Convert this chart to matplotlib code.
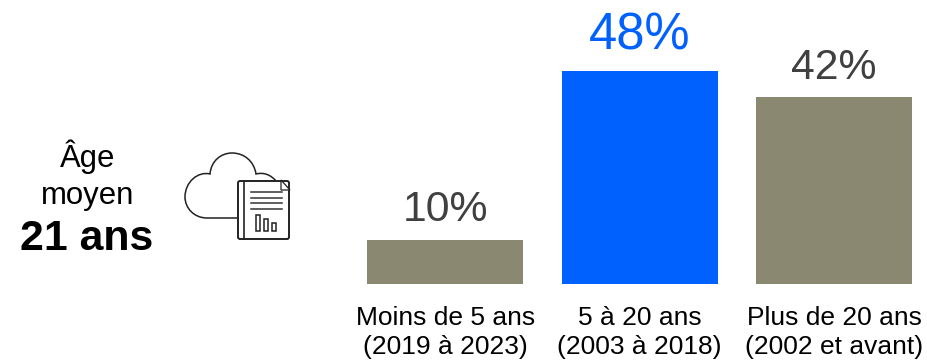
import matplotlib
matplotlib.use('Agg')
import matplotlib.pyplot as plt
from matplotlib.patches import PathPatch, Rectangle, FancyBboxPatch, Polygon
from matplotlib.path import Path

categories = ['Moins de 5 ans\n(2019 à 2023)', '5 à 20 ans\n(2003 à 2018)', 'Plus de 20 ans\n(2002 et avant)']
values = [10, 48, 42]
bar_colors = ['#8A8871', '#0061FF', '#8A8871']
label_colors = ['#404040', '#0061FF', '#404040']
label_sizes = [30.8, 36.5, 30.8]

W, H = 927, 360
plt.rcParams['font.family'] = ['Liberation Sans', 'DejaVu Sans']
fig = plt.figure(figsize=(W / 100, H / 100), dpi=100)

# bars, axes placed in pixels
ax = fig.add_axes([348 / W, (H - 284) / H, 579 / W, 284 / H])
ax.bar(range(3), values, width=0.802, color=bar_colors)
ax.set_xlim(-0.5, 2.477)
ax.set_ylim(0, 63.9)
ax.axis('off')
for i, v in enumerate(values):
    ax.annotate(f'{v}%', (i, v), xytext=(0, 7), textcoords='offset points', ha='center', va='bottom',
                fontsize=label_sizes[i], color=label_colors[i], annotation_clip=False)
    ax.annotate(categories[i], (i, 0), xytext=(0, -16), textcoords='offset points', ha='center', va='top',
                fontsize=19, color='black', annotation_clip=False, linespacing=1.24)

# overlay in pixel coords for the text on the left and the icon
ov = fig.add_axes([0, 0, 1, 1])
ov.set_xlim(0, W)
ov.set_ylim(H, 0)
ov.axis('off')
ov.patch.set_alpha(0)
ov.text(88, 157, 'Âge', ha='center', va='center', fontsize=22.4, color='black')
ov.text(88, 196, 'moyen', ha='center', va='center', fontsize=22.4, color='black')
ov.text(87, 239, '21 ans', ha='center', va='center', fontsize=30.8, fontweight='bold', color='black')

# cloud outline
c = Path.CURVE4
verts = [(238, 218), (207, 218),
         (194, 218), (185, 208), (185, 197),
         (185, 182), (198, 171), (210, 174),
         (211, 161), (221, 153), (232, 153),
         (244, 153), (254, 161), (256, 174),
         (264, 172), (271, 175), (276, 181)]
codes = [Path.MOVETO, Path.LINETO] + [c] * 15
ov.add_patch(PathPatch(Path(verts, codes), fc='none', ec='#222222', lw=1.1))

# document
ov.add_patch(FancyBboxPatch((238, 181), 51, 58, boxstyle='round,pad=0,rounding_size=2', fc='white', ec='#222222', lw=1.4))
ov.plot([244, 244], [181, 239], color='#222222', lw=1.2)
ov.add_patch(Polygon([(281, 180), (290, 190), (281, 190)], closed=True, fc='white', ec='#222222', lw=0.9))
for y in (192, 198, 203, 209):
    ov.plot([251, 282], [y, y], color='#333333', lw=1.1)
ov.add_patch(Rectangle((256, 215), 4.5, 16, fc='white', ec='#222222', lw=1.1))
ov.add_patch(Rectangle((264, 219), 4.5, 12, fc='white', ec='#222222', lw=1.1))
ov.add_patch(Rectangle((272, 223), 4.5, 8, fc='white', ec='#222222', lw=1.1))

fig.savefig('out.png', dpi=100)
